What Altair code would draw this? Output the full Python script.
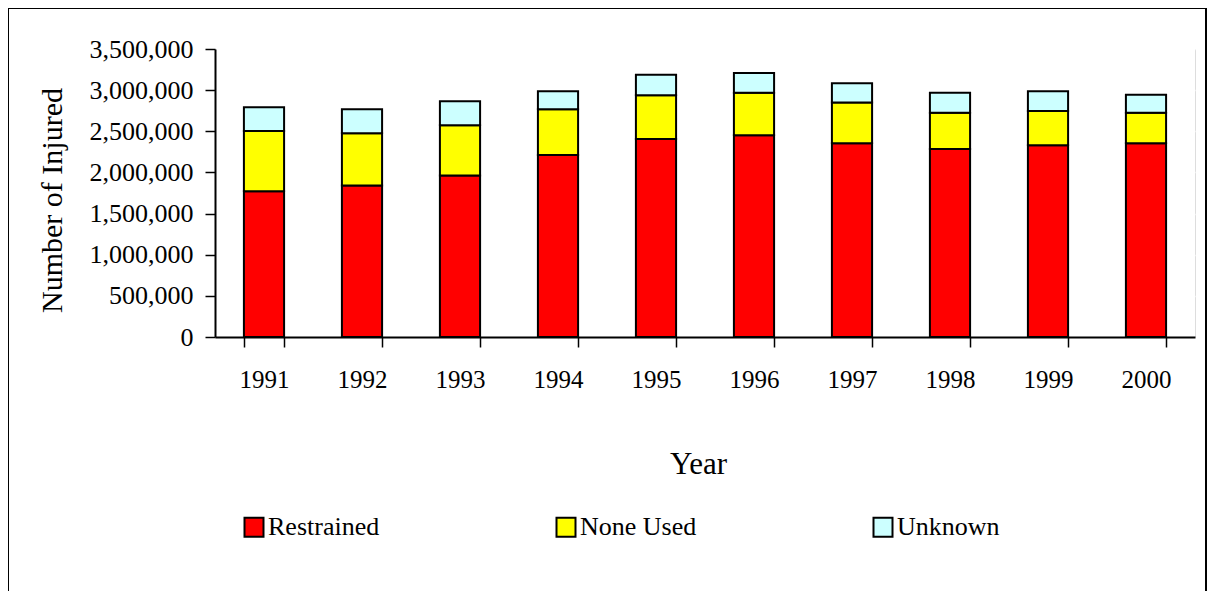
import altair as alt
import pandas as pd

years = ["1991", "1992", "1993", "1994", "1995", "1996", "1997", "1998", "1999", "2000"]
series = ["Restrained", "None Used", "Unknown"]
restrained = [1772000, 1841000, 1963000, 2211000, 2406000, 2451000, 2354000, 2285000, 2329000, 2354000]
none_used = [732000, 635000, 610000, 557000, 533000, 516000, 496000, 439000, 419000, 370000]
unknown = [289000, 292000, 293000, 220000, 248000, 240000, 235000, 243000, 240000, 219000]
colors = ["#FF0000", "#FFFF00", "#CCFFFF"]
y_ticks = [0, 500000, 1000000, 1500000, 2000000, 2500000, 3000000, 3500000]

rows = []
for i, y in enumerate(years):
    for k, (name, vals) in enumerate(zip(series, [restrained, none_used, unknown])):
        rows.append({"Year": y, "Type": name, "Value": vals[i], "Order": k})
df = pd.DataFrame(rows)

FONT = "Liberation Serif"

bars = alt.Chart(df).mark_bar(stroke="black", strokeWidth=2).encode(
    x=alt.X(
        "Year:O",
        sort=years,
        scale=alt.Scale(paddingInner=0.59, paddingOuter=0.295),
        axis=alt.Axis(
            title="Year",
            labelAngle=0,
            tickBand="extent",
            tickSize=10,
            tickColor="black",
            tickWidth=1.5,
            domainColor="black",
            domainWidth=2,
            labelFont=FONT,
            labelFontSize=25,
            labelColor="black",
            labelPadding=20,
            titleFont=FONT,
            titleFontSize=31,
            titleFontWeight="normal",
            titleColor="black",
            titleX=483,
            titleY=136,
            titleBaseline="alphabetic",
            titleAlign="center",
            grid=False,
        ),
    ),
    y=alt.Y(
        "Value:Q",
        stack="zero",
        scale=alt.Scale(domain=[0, 3500000], nice=False),
        axis=alt.Axis(
            title="Number of Injured",
            values=y_ticks,
            format=",d",
            tickSize=10,
            tickColor="black",
            tickWidth=1.5,
            domainColor="black",
            domainWidth=2,
            labelFont=FONT,
            labelFontSize=26,
            labelColor="black",
            labelPadding=12,
            titleFont=FONT,
            titleFontSize=30,
            titleFontWeight="normal",
            titleColor="black",
            titleAngle=270,
            titleX=-148,
            titleY=151,
            titleBaseline="bottom",
            titleAlign="center",
            grid=True,
            gridColor="white",
            gridWidth=1.5,
        ),
    ),
    color=alt.Color(
        "Type:N",
        scale=alt.Scale(domain=series, range=colors),
        legend=alt.Legend(
            title=None,
            orient="none",
            legendX=26,
            legendY=465,
            direction="horizontal",
            columns=3,
            columnPadding=172,
            symbolType="square",
            symbolSize=361,
            symbolStrokeColor="black",
            symbolStrokeWidth=2,
            symbolOpacity=1,
            labelFont=FONT,
            labelFontSize=26,
            labelColor="black",
            labelOffset=1,
        ),
    ),
    order=alt.Order("Order:Q", sort="ascending"),
)

frame = alt.Chart(alt.Data(values=[{"a": 1}])).mark_rect(
    fillOpacity=0, stroke="black", strokeWidth=2, clip=False
).encode(
    x=alt.value(-207),
    x2=alt.value(991),
    y=alt.value(-41),
    y2=alt.value(560),
)

chart = alt.layer(bars, frame).properties(
    width=980,
    height=288,
    autosize=alt.AutoSizeParams(type="none"),
    padding={"left": 207, "top": 41, "right": 12, "bottom": 254},
    background="white",
).configure_view(
    fill="#E2D9CB",
    stroke="#808080",
    strokeWidth=1.5,
).configure_legend(
    labelFont=FONT,
    labelFontSize=26,
    labelColor="black",
).configure(
    font=FONT,
)

chart.save("out.html", embed_options={"renderer": "svg", "actions": False})
